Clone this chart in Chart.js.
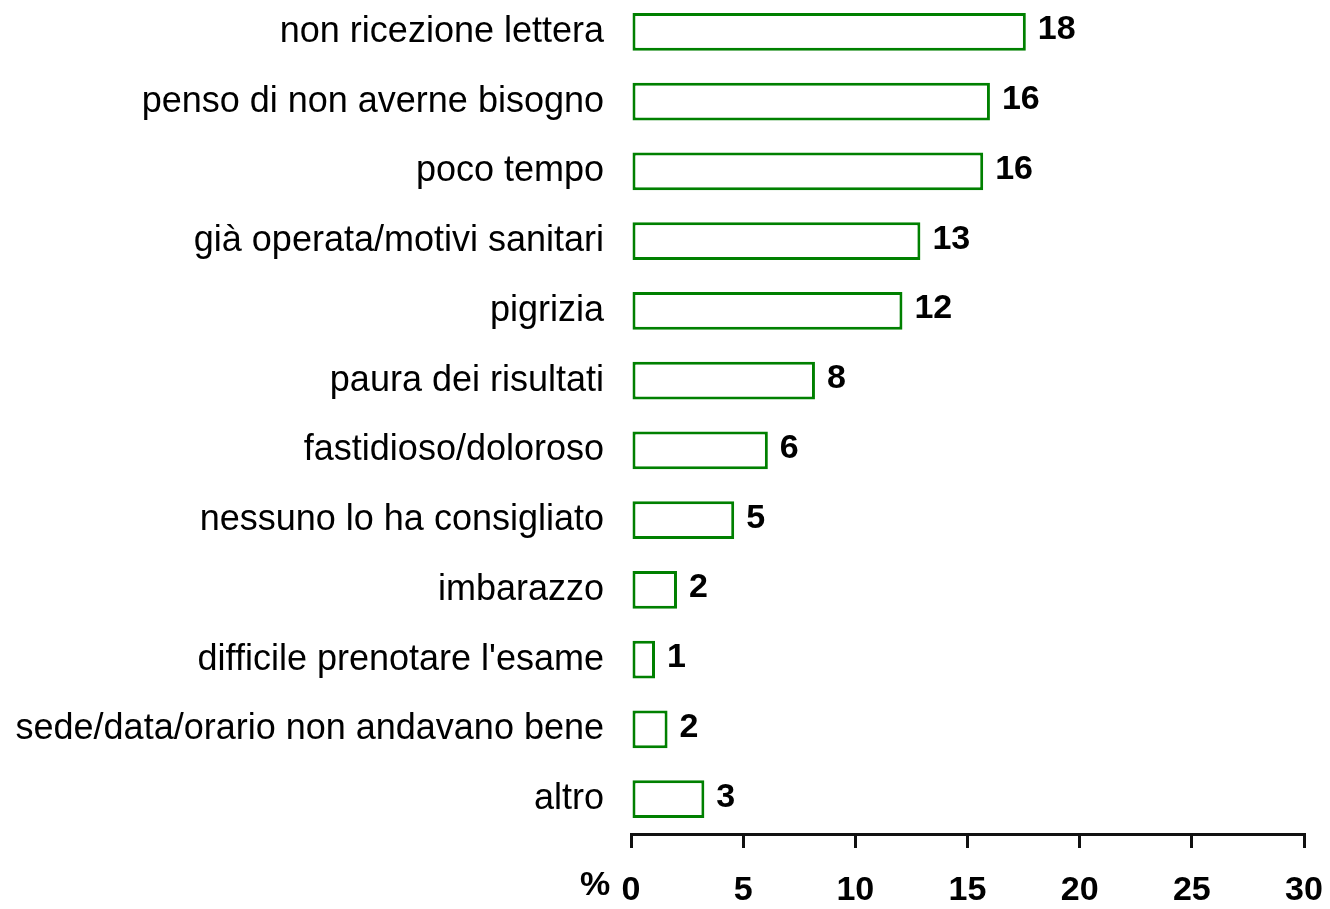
<!DOCTYPE html>
<html>
<head>
<meta charset="utf-8">
<script src="https://cdn.jsdelivr.net/npm/chart.js@4/dist/chart.umd.min.js"></script>
<style>
  html, body { margin: 0; padding: 0; background: #fff; overflow: hidden; }
  #wrap { position: absolute; left: 0; top: -3px; width: 1330px; height: 912px; }
</style>
</head>
<body>
<div id="wrap"><canvas id="c"></canvas></div>
<script>
const categories = [
  "non ricezione lettera",
  "penso di non averne bisogno",
  "poco tempo",
  "già operata/motivi sanitari",
  "pigrizia",
  "paura dei risultati",
  "fastidioso/doloroso",
  "nessuno lo ha consigliato",
  "imbarazzo",
  "difficile prenotare l'esame",
  "sede/data/orario non andavano bene",
  "altro"
];
const percentValues = [17.6, 16.0, 15.7, 12.9, 12.1, 8.2, 6.1, 4.6, 2.05, 1.07, 1.63, 3.27];
const valueLabels = ["18", "16", "16", "13", "12", "8", "6", "5", "2", "1", "2", "3"];
const xTicks = [0, 5, 10, 15, 20, 25, 30];
const axisUnit = "%";

const FONT = "'Liberation Sans', Arial, sans-serif";
const GREEN = "rgb(0,128,0)";

const valueLabelPlugin = {
  id: "valueLabels",
  afterDatasetsDraw(chart) {
    const ctx = chart.ctx;
    const meta = chart.getDatasetMeta(0);
    ctx.save();
    ctx.font = "bold 34px " + FONT;
    ctx.fillStyle = "#000";
    ctx.textAlign = "left";
    ctx.textBaseline = "middle";
    meta.data.forEach((bar, i) => {
      ctx.fillText(valueLabels[i], bar.x + 12, bar.y - 2);
    });
    ctx.restore();
  }
};

const unitPlugin = {
  id: "unitLabel",
  afterDraw(chart) {
    const ctx = chart.ctx;
    const xs = chart.scales.x;
    ctx.save();
    ctx.font = "bold 34px " + FONT;
    ctx.fillStyle = "#000";
    ctx.textAlign = "center";
    ctx.textBaseline = "middle";
    ctx.fillText(axisUnit, xs.getPixelForValue(xTicks[0]) - 36, xs.top + 14 + 20 + 20 - 2);
    ctx.restore();
  }
};

new Chart(document.getElementById("c"), {
  type: "bar",
  data: {
    labels: categories,
    datasets: [{
      data: percentValues,
      backgroundColor: "#ffffff",
      borderColor: GREEN,
      borderWidth: 3,
      borderSkipped: false,
      barPercentage: 0.54,
      categoryPercentage: 1.0
    }]
  },
  options: {
    indexAxis: "y",
    responsive: true,
    maintainAspectRatio: false,
    animation: false,
    layout: { padding: { left: 0, right: 26, top: 0, bottom: 0 } },
    plugins: { legend: { display: false }, tooltip: { enabled: false } },
    scales: {
      x: {
        type: "linear",
        min: xTicks[0],
        max: xTicks[xTicks.length - 1],
        afterBuildTicks(scale) { scale.ticks = xTicks.map(v => ({ value: v })); },
        afterFit(scale) {
          scale.height = 75;
          scale.paddingLeft = 0; scale.paddingRight = 0;
          scale.paddingTop = 0; scale.paddingBottom = 0;
        },
        grid: {
          display: true,
          drawOnChartArea: false,
          drawTicks: true,
          tickLength: 14,
          lineWidth: 3,
          color: "#111"
        },
        border: { display: true, color: "#111", width: 3 },
        ticks: {
          color: "#000",
          padding: 22,
          maxRotation: 0,
          autoSkip: false,
          font: { family: FONT, size: 34, weight: "bold" }
        }
      },
      y: {
        afterFit(scale) {
          scale.width = 631;
          scale.paddingLeft = 0; scale.paddingRight = 0;
          scale.paddingTop = 0; scale.paddingBottom = 0;
        },
        grid: { display: false, drawTicks: false },
        border: { display: false },
        ticks: {
          color: "#000",
          padding: 27,
          autoSkip: false,
          font: { family: FONT, size: 36 }
        }
      }
    }
  },
  plugins: [valueLabelPlugin, unitPlugin]
});
</script>
</body>
</html>
